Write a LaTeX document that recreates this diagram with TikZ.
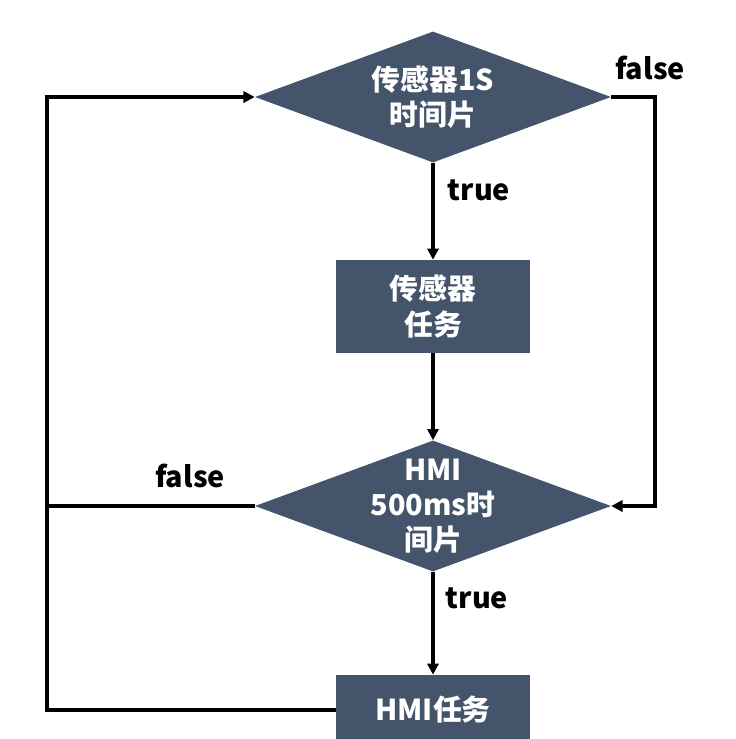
\documentclass[tikz,border=0pt]{standalone}
\usepackage{fontspec}
\setmainfont{Noto Sans CJK SC}
\usetikzlibrary{shapes.geometric,arrows.meta}
\definecolor{ardosia}{HTML}{44546A}

\begin{document}
\begin{tikzpicture}[
		x=0.025cm,
		y=-0.025cm,
		>={Triangle[length=0.28cm,width=0.28cm]},
		losango/.style={
			diamond,
			fill=ardosia,
			aspect=2.72,
			minimum width=8.9cm,
			minimum height=3.275cm,
			inner sep=0pt
		},
		texto/.style={
			text=white,
			align=center,
			font=\bfseries\fontsize{20.5}{25}\selectfont
		},
		caixa/.style={
			rectangle,
			fill=ardosia,
			minimum width=4.85cm,
			minimum height=2.325cm,
			texto
		},
		rotulo/.style={
			font=\bfseries\fontsize{20.5}{25}\selectfont
		},
		linha/.style={line width=2.2pt}
		]
		
		\useasboundingbox (0,0) rectangle (736,739);
		\clip (0,0) rectangle (736,739);
		
		\node[losango, label={[texto]center:{传感器1S\\时间片}}] (dec1) at (433,97) {};
		\node[caixa] (sensor) at (433,306.5) {传感器\\任务};
		\node[losango, label={[texto]center:{HMI\\500ms时\\间片}}] (dec2) at (433,506) {};
		\node[caixa, minimum height=1.75cm] (hmi) at (433,710) {HMI任务};
		
		\coordinate (dir) at (655,97);
		\coordinate (esq) at (47,710);
		
		%Linhas
		\draw[->, linha] (dec1.south) -- (sensor.north);
		\draw[->, linha] (sensor.south) -- (dec2.north);
		\draw[->, linha] (dec2.south) -- (hmi.north);
		\draw[->, linha] (dec1.east) -- (dir) |- (dec2.east);
		\draw[->, linha] (hmi.west) -- (esq) |- (dec1.west);
		\draw[-, linha] (dec2.west) -- (esq |- dec2.west);
		
		\node[rotulo] (v1) at (479,190) {true};
		\node[rotulo] (f1) at (650,68) {false};
		\node[rotulo] (f2) at (190,476) {false};
		\node[rotulo] (v2) at (477,598) {true};
		
	\end{tikzpicture}
\end{document}
